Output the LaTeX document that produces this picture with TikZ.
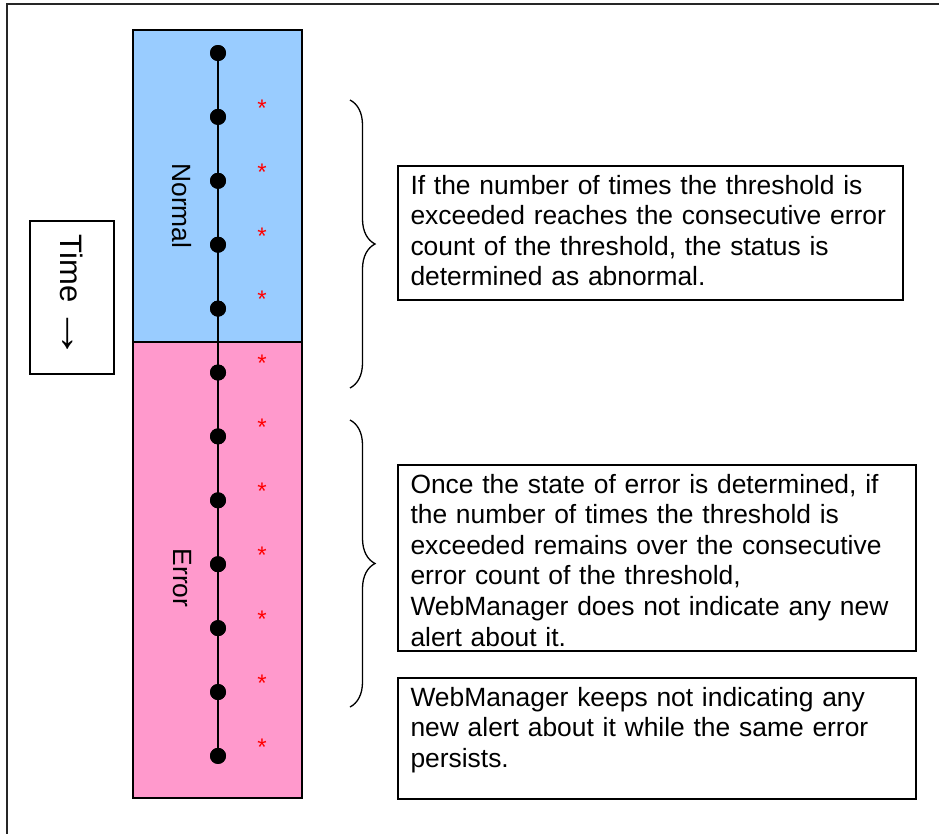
\documentclass[tikz,border=0pt]{standalone}
\usepackage{fontspec}
\setmainfont{Liberation Sans}
\usepackage{tikz}
\usetikzlibrary{positioning, decorations.pathreplacing}
\definecolor{normalblue}{HTML}{99CCFF}
\definecolor{errorpink}{HTML}{FF99CC}

\begin{document}
\begin{tikzpicture}[
        x=1pt, y=-1pt,
        every node/.style={font=\fontsize{26.4}{30.6}\selectfont},
        zone/.style={draw, line width=1.5pt, minimum width=169pt, inner sep=0pt, outer sep=0pt},
        zonelabel/.style={rotate=-90, inner sep=0pt},
        dot/.style={circle, fill=black, minimum size=16pt, inner sep=0pt},
        star/.style={text=red, inner sep=0pt, font=\fontsize{24}{24}\selectfont},
        textbox/.style={draw, line width=1.5pt, align=left, inner xsep=12.5pt, inner ysep=0pt, outer sep=0pt, text height=28pt},
        bracket/.style={decorate, decoration={brace, amplitude=25pt}, line width=1.3pt}
    ]
        \useasboundingbox (0,0) rectangle (939,833);
        % Outer frame
        \draw[line width=2pt, black!85] (7,4) rectangle (990,890);

        % Time axis
        \node[draw, line width=1.5pt, rotate=-90, minimum width=153pt, minimum height=84pt,
              font=\fontsize{31}{31}\selectfont] (timebox) at (72,297.5) {Time\,\scalebox{1.7}[1.4]{→}};

        % Zones
        \node[zone, fill=normalblue, minimum height=312pt] (normalzone) at (217.5,186) {};
        \node[zone, fill=errorpink, minimum height=456pt, below=0pt of normalzone] (errorzone) {};
        \node[zonelabel] (normallabel) at (182,206) {Normal};
        \node[zonelabel] (errorlabel) at (182,578) {Error};

        % Checks
        \foreach \i in {0,...,11}
            \node[dot] (d\i) at (218,{53+63.9*\i}) {};
        \draw[line width=2pt] (d0.center) -- (d11.center);
        \foreach \i in {0,...,11}
            \node[dot] at (d\i) {};
        \foreach \i in {0,...,10}
            \node[star] (s\i) at (262,{53+63.9*\i+55}) {*};

        % Braces
        \coordinate (abnormaltop) at (350,100);
        \coordinate (abnormalbot) at (350,388);
        \coordinate (errortop) at (350,420);
        \coordinate (errorbot) at (350,707);
        \draw[bracket] (abnormaltop) -- (abnormalbot);
        \draw[bracket] (errortop) -- (errorbot);

        % Notes
        \node[textbox, anchor=north west, text width=480pt, text depth=106pt] (noteabnormal) at (398,166)
            {If the number of times the threshold is\\exceeded reaches the consecutive error\\count of the threshold, the status is\\determined as abnormal.};
        \node[textbox, anchor=north west, text width=493pt, text depth=158pt] (noteerror) at (398,465)
            {Once the state of error is determined, if\\the number of times the threshold is\\exceeded remains over the consecutive\\error count of the threshold,\\WebManager does not indicate any new\\alert about it.};
        \node[textbox, text width=493pt, text depth=93pt, below right=27pt and 0pt of noteerror.south west] (notepersist)
            {WebManager keeps not indicating any\\new alert about it while the same error\\persists.};
    \end{tikzpicture}
\end{document}
